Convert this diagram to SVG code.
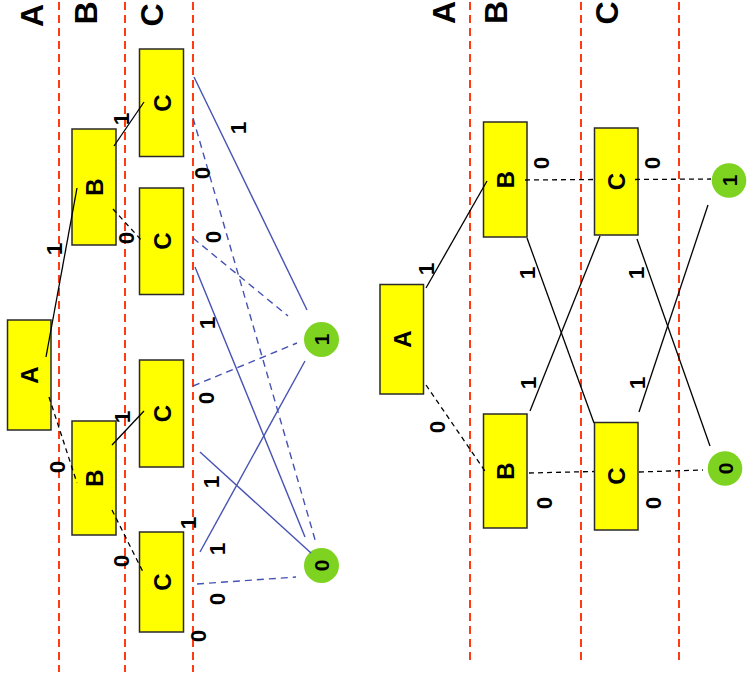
<svg xmlns="http://www.w3.org/2000/svg" width="747" height="683" viewBox="0 0 747 683">
<style>
.bg{fill:#fff}
.lane{stroke:#ff3b14;stroke-width:2;stroke-dasharray:8,5;fill:none}
.box{fill:#ffff00;stroke:#2a2a2a;stroke-width:1.5}
.term{fill:#7ed321}
.t{font-family:"Liberation Sans",Arial,sans-serif;font-weight:bold;fill:#000;text-anchor:middle}
.big{font-size:32px}
.nl{font-size:24px}
.el{font-size:22.5px}
.tl{font-size:21px}
.k{stroke:#000;stroke-width:1.3;fill:none}
.kd{stroke:#000;stroke-width:1.3;fill:none;stroke-dasharray:5,4}
.b{stroke:#4652b4;stroke-width:1.4;fill:none}
.bd{stroke:#4652b4;stroke-width:1.4;fill:none;stroke-dasharray:7,5}
</style>
<rect class="bg" x="0" y="0" width="747" height="683"/>
<g id="lanes">
<line class="lane" x1="59" y1="2" x2="59" y2="672"/>
<line class="lane" x1="125" y1="2" x2="125" y2="672"/>
<line class="lane" x1="193" y1="2" x2="193" y2="672"/>
<line class="lane" x1="470" y1="2" x2="470" y2="665"/>
<line class="lane" x1="581" y1="2" x2="581" y2="665"/>
<line class="lane" x1="679" y1="2" x2="679" y2="665"/>
</g>
<g id="lane-labels">
<text class="t big" transform="translate(43,15.5) rotate(-90)">A</text>
<text class="t big" transform="translate(97,13) rotate(-90)">B</text>
<text class="t big" transform="translate(163,15) rotate(-90)">C</text>
<text class="t big" transform="translate(455,12.5) rotate(-90)">A</text>
<text class="t big" transform="translate(507,12.5) rotate(-90)">B</text>
<text class="t big" transform="translate(618,13) rotate(-90)">C</text>
</g>
<g id="nodeL-A"><rect class="box" x="7.5" y="320" width="43.5" height="110"/><text class="t nl" transform="translate(38,375) rotate(-90)">A</text></g>
<g id="nodeL-B1"><rect class="box" x="72" y="129" width="44" height="116"/><text class="t nl" transform="translate(103,187) rotate(-90)">B</text></g>
<g id="nodeL-B2"><rect class="box" x="72" y="421" width="44" height="114"/><text class="t nl" transform="translate(103,478) rotate(-90)">B</text></g>
<g id="nodeL-C1"><rect class="box" x="139.5" y="49" width="44" height="107.5"/><text class="t nl" transform="translate(170.5,103) rotate(-90)">C</text></g>
<g id="nodeL-C2"><rect class="box" x="139.5" y="188" width="44" height="106.5"/><text class="t nl" transform="translate(170.5,241) rotate(-90)">C</text></g>
<g id="nodeL-C3"><rect class="box" x="139.5" y="360" width="44" height="107"/><text class="t nl" transform="translate(170.5,413.5) rotate(-90)">C</text></g>
<g id="nodeL-C4"><rect class="box" x="139.5" y="532" width="44" height="100"/><text class="t nl" transform="translate(170.5,582) rotate(-90)">C</text></g>
<g id="termL-1"><circle class="term" cx="321.5" cy="339.5" r="17.5"/><text class="t tl" transform="translate(329,339.5) rotate(-90)">1</text></g>
<g id="termL-0"><circle class="term" cx="321.5" cy="565.5" r="17.5"/><text class="t tl" transform="translate(329,565.5) rotate(-90)">0</text></g>
<g id="nodeR-A"><rect class="box" x="380" y="284.5" width="43.5" height="109.5"/><text class="t nl" transform="translate(411,339) rotate(-90)">A</text></g>
<g id="nodeR-B1"><rect class="box" x="483.5" y="122" width="43.5" height="115"/><text class="t nl" transform="translate(514,179.5) rotate(-90)">B</text></g>
<g id="nodeR-B2"><rect class="box" x="483.5" y="414" width="43.5" height="114"/><text class="t nl" transform="translate(514,471) rotate(-90)">B</text></g>
<g id="nodeR-C1"><rect class="box" x="594.5" y="128" width="43.5" height="107"/><text class="t nl" transform="translate(625,181.5) rotate(-90)">C</text></g>
<g id="nodeR-C2"><rect class="box" x="594.5" y="422.5" width="43.5" height="107.5"/><text class="t nl" transform="translate(625,476) rotate(-90)">C</text></g>
<g id="termR-1"><circle class="term" cx="729" cy="180.5" r="17.3"/><text class="t tl" transform="translate(736.5,180.5) rotate(-90)">1</text></g>
<g id="termR-0"><circle class="term" cx="725" cy="468.5" r="17.3"/><text class="t tl" transform="translate(732.5,468.5) rotate(-90)">0</text></g>
<g id="connectors">
<line class="k" x1="46" y1="357" x2="77" y2="188"/>
<line class="kd" x1="49" y1="397" x2="77" y2="483"/>
<line class="k" x1="114" y1="146" x2="144" y2="102"/>
<line class="kd" x1="113" y1="209" x2="143" y2="242"/>
<line class="k" x1="112" y1="445" x2="144" y2="411"/>
<line class="kd" x1="112" y1="510" x2="144" y2="574"/>
<line class="b" x1="194" y1="77" x2="307" y2="310"/>
<line class="bd" x1="193" y1="118" x2="316" y2="543"/>
<line class="bd" x1="193" y1="238" x2="288" y2="316"/>
<line class="b" x1="195" y1="267" x2="305" y2="537"/>
<line class="bd" x1="193" y1="386" x2="297" y2="343"/>
<line class="b" x1="200" y1="452" x2="311" y2="553"/>
<line class="b" x1="200" y1="552" x2="305" y2="361"/>
<line class="bd" x1="197" y1="584" x2="296" y2="577"/>
<line class="k" x1="426" y1="288" x2="487" y2="181"/>
<line class="kd" x1="426" y1="385" x2="487" y2="474"/>
<line class="k" x1="527" y1="238" x2="594" y2="423"/>
<line class="kd" x1="525" y1="180" x2="594" y2="179.5"/>
<line class="kd" x1="635" y1="179.5" x2="711" y2="179"/>
<line class="k" x1="600" y1="236" x2="530" y2="411"/>
<line class="k" x1="637" y1="239" x2="710" y2="446"/>
<line class="k" x1="639" y1="412" x2="708" y2="205"/>
<line class="kd" x1="529" y1="473" x2="594" y2="471.5"/>
<line class="kd" x1="639" y1="472" x2="703" y2="470"/>
</g>
<g id="edge-labels">
<text class="t el" transform="translate(62,249) rotate(-90)">1</text>
<text class="t el" transform="translate(65,467) rotate(-90)">0</text>
<text class="t el" transform="translate(129,119) rotate(-90)">1</text>
<text class="t el" transform="translate(134,238) rotate(-90)">0</text>
<text class="t el" transform="translate(130,417) rotate(-90)">1</text>
<text class="t el" transform="translate(129,561) rotate(-90)">0</text>
<text class="t el" transform="translate(246,128) rotate(-90)">1</text>
<text class="t el" transform="translate(210,173) rotate(-90)">0</text>
<text class="t el" transform="translate(221,237) rotate(-90)">0</text>
<text class="t el" transform="translate(215,323) rotate(-90)">1</text>
<text class="t el" transform="translate(214,398) rotate(-90)">0</text>
<text class="t el" transform="translate(219,482) rotate(-90)">1</text>
<text class="t el" transform="translate(196,523) rotate(-90)">1</text>
<text class="t el" transform="translate(225,549) rotate(-90)">1</text>
<text class="t el" transform="translate(225,599) rotate(-90)">0</text>
<text class="t el" transform="translate(206,636) rotate(-90)">0</text>
<text class="t el" transform="translate(434,269) rotate(-90)">1</text>
<text class="t el" transform="translate(445,427) rotate(-90)">0</text>
<text class="t el" transform="translate(549,163) rotate(-90)">0</text>
<text class="t el" transform="translate(660,163) rotate(-90)">0</text>
<text class="t el" transform="translate(535,273) rotate(-90)">1</text>
<text class="t el" transform="translate(644,273) rotate(-90)">1</text>
<text class="t el" transform="translate(536,383) rotate(-90)">1</text>
<text class="t el" transform="translate(645,383) rotate(-90)">1</text>
<text class="t el" transform="translate(552,503) rotate(-90)">0</text>
<text class="t el" transform="translate(661,503) rotate(-90)">0</text>
</g>
</svg>
